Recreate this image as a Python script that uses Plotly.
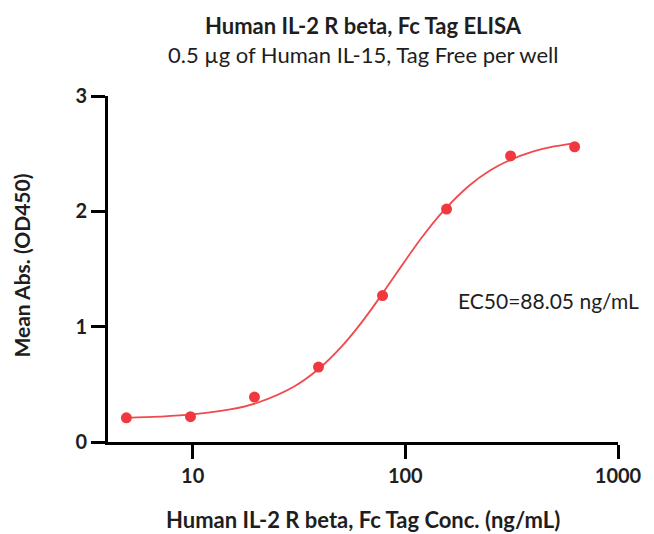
import plotly.graph_objects as go
import math

# Data points
conc = [4.88, 9.77, 19.53, 39.06, 78.13, 156.25, 312.5, 625]
mean_abs = [0.21, 0.22, 0.39, 0.65, 1.27, 2.02, 2.48, 2.56]

# Fitted curve
curve_x = [4.88, 7, 10, 15, 20, 30, 40, 50, 60, 70, 80, 90, 100, 120, 150,
           200, 250, 300, 400, 500, 625]
curve_y = [0.21, 0.22, 0.239, 0.282, 0.338, 0.481, 0.648, 0.824, 0.998, 1.163,
           1.315, 1.452, 1.573, 1.777, 1.997, 2.224, 2.354, 2.432, 2.519, 2.563, 2.59]

x_ticks = [10, 100, 1000]
x_tick_labels = ["10", "100", "1000"]
y_ticks = [0, 1, 2, 3]

title = "<b>Human IL-2 R beta, Fc Tag ELISA</b>"
subtitle = "0.5 µg of Human IL-15, Tag Free per well"
x_title = "<b>Human IL-2 R beta, Fc Tag Conc. (ng/mL)</b>"
y_title = "<b>Mean Abs. (OD450)</b>"
ec50_text = "EC50=88.05 ng/mL"

FONT = "Lato, 'Open Sans', sans-serif"
TXT = "#1e1e1e"
RED = "#f0393f"

fig = go.Figure()
fig.add_trace(go.Scatter(x=curve_x, y=curve_y, mode="lines",
                         line=dict(color="#f04a4e", width=1.8, shape="spline"),
                         hoverinfo="skip", showlegend=False))
fig.add_trace(go.Scatter(x=conc, y=mean_abs, mode="markers",
                         marker=dict(color=RED, size=11),
                         showlegend=False, cliponaxis=False))

fig.update_layout(
    width=646, height=526,
    margin=dict(l=100, r=26, t=88, b=92),
    paper_bgcolor="white", plot_bgcolor="white",
    font=dict(family=FONT, color=TXT, size=20),
    showlegend=False,
)

fig.update_xaxes(
    type="log", range=[math.log10(4), 3],
    tickvals=x_ticks, ticktext=x_tick_labels,
    tickfont=dict(size=20, family=FONT, color=TXT, weight="bold"),
    showgrid=False, zeroline=False,
    showline=True, linecolor="black", linewidth=3,
    ticks="outside", ticklen=14, tickwidth=3, tickcolor="black",
)
fig.update_yaxes(
    range=[0, 3],
    tickvals=y_ticks,
    tickfont=dict(size=20, family=FONT, color=TXT, weight="bold"),
    showgrid=False, zeroline=False,
    showline=True, linecolor="black", linewidth=3,
    ticks="outside", ticklen=14, tickwidth=3, tickcolor="black",
)

fig.add_annotation(text=title, xref="paper", yref="paper",
                   x=0.5, y=1.0, yshift=71, showarrow=False,
                   xanchor="center", yanchor="middle",
                   font=dict(size=22, family=FONT, color=TXT))
fig.add_annotation(text=subtitle, xref="paper", yref="paper",
                   x=0.5, y=1.0, yshift=42, showarrow=False,
                   xanchor="center", yanchor="middle",
                   font=dict(size=22, family=FONT, color=TXT))
fig.add_annotation(text=x_title, xref="paper", yref="paper",
                   x=0.5, y=0.0, yshift=-77, showarrow=False,
                   xanchor="center", yanchor="middle",
                   font=dict(size=22, family=FONT, color=TXT))
fig.add_annotation(text=y_title, xref="paper", yref="paper",
                   x=0.0, y=0.51, xshift=-86, textangle=-90, showarrow=False,
                   xanchor="center", yanchor="middle",
                   font=dict(size=21, family=FONT, color=TXT))
fig.add_annotation(text=ec50_text, xref="paper", yref="y",
                   x=0.683, y=1.23, xanchor="left", yanchor="middle",
                   showarrow=False,
                   font=dict(size=21, family=FONT, color=TXT))

fig.write_html("out.html")
